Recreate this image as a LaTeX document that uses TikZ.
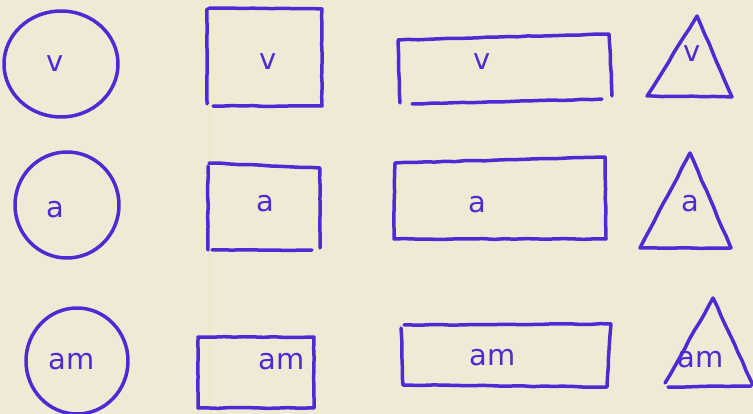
\documentclass[tikz,border=0pt]{standalone}
\usepackage{fontspec}
\newfontfamily\handfont{DejaVu Sans}
\usetikzlibrary{decorations.pathmorphing}
\definecolor{ink}{RGB}{76,44,210}
\definecolor{paper}{RGB}{240,233,213}
\definecolor{fold}{RGB}{225,240,170}
\tikzset{
  pen/.style={draw=ink, line width=3.5pt, line cap=round, line join=round},
  sketch/.style={pen, decorate, decoration={random steps, segment length=10pt, amplitude=0.4pt}},
  lbl/.style={text=ink, font=\handfont\fontsize{29}{30}\selectfont, inner sep=0pt, anchor=base}
}
\begin{document}
\begin{tikzpicture}[x=1pt, y=-1pt]
\fill[paper] (0,0) rectangle (753,414);
\useasboundingbox (0,0) rectangle (753,414);
\draw[fold, line width=1pt] (209,0) -- (209,414);
\draw[paper!85!white, line width=0.8pt] (305,0) -- (305,414);
% Row 1
\draw[pen] (61,64) ellipse [x radius=57, y radius=53];
\node[lbl] (c1) at (55,72) {v};
\draw[sketch] (207,9) -- (207,104) (213,106) -- (322,106) -- (322,9) -- (209,8);
\node[lbl] (s1) at (268,70) {v};
\draw[sketch] (400,103) -- (398,40) -- (609,34) -- (612,96) (412,104) -- (602,99);
\node[lbl] (r1) at (482,70) {v};
\draw[sketch] (697,16) -- (732,97) -- (647,96) -- cycle;
\node[lbl] (t1) at (692,62) {v};
% Row 2
\draw[pen] (67,205) ellipse [x radius=52, y radius=53];
\node[lbl] (c2) at (55,218) {a};
\draw[sketch] (208,166) -- (208,250) (212,250) -- (312,250) (320,248) -- (320,168) -- (209,163);
\node[lbl] (s2) at (265,212) {a};
\draw[sketch] (395,163) -- (394,239) -- (606,239) -- (605,157) -- (395,163);
\node[lbl] (r2) at (477,213) {a};
\draw[sketch] (690,153) -- (731,248) -- (640,248) -- cycle;
\node[lbl] (t2) at (690,212) {a};
% Row 3
\draw[pen] (77,361) ellipse [x radius=51, y radius=53];
\node[lbl] (c3) at (72,370) {am};
\draw[sketch] (198,337) rectangle (314,408);
\node[lbl] (s3) at (282,370) {am};
\draw[sketch] (401,328) -- (403,385) -- (607,387) -- (611,324) -- (404,325);
\node[lbl] (r3) at (493,366) {am};
\draw[sketch] (713,298) -- (753,385) (665,383) -- (713,298) (668,387) -- (751,386);
\node[lbl] (t3) at (701,367) {am};
\end{tikzpicture}
\end{document}
